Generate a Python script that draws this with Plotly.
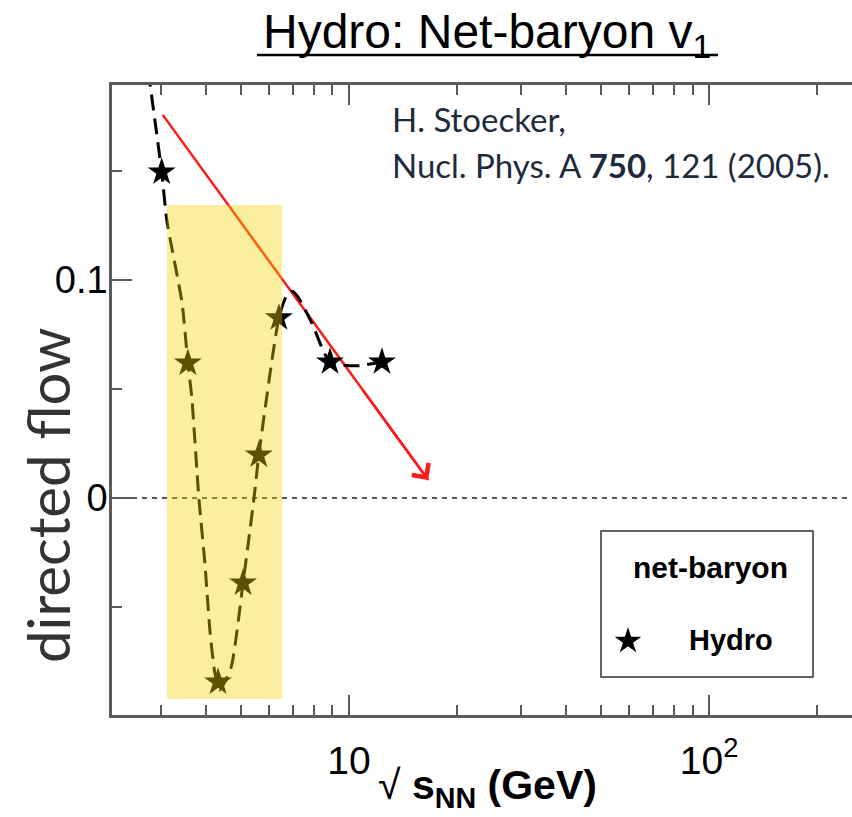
import math
import plotly.graph_objects as go

# Hydro calculation: net-baryon directed flow vs collision energy
energy_hydro = [3.02, 3.57, 4.33, 5.08, 5.62, 6.39, 8.86, 12.35]
v1_hydro = [0.1495, 0.0619, -0.0844, -0.039, 0.0197, 0.0826, 0.0624, 0.0624]

# smooth dashed guide through the hydro points
curve_energy = [2.77, 3.02, 3.12, 3.44, 3.57, 3.66, 3.83, 3.98, 4.11, 4.24, 4.37,
                4.70, 5.08, 5.45, 5.62, 6.39, 6.70, 6.95, 7.20, 7.89, 8.86, 10.46, 12.35]
curve_v1 = [0.196, 0.1495, 0.1275, 0.0894, 0.0619, 0.0463, 0.0, -0.0298, -0.0606,
            -0.0800, -0.0880, -0.0780, -0.039, 0.0, 0.0197, 0.0826, 0.0925, 0.0948,
            0.0925, 0.0802, 0.0624, 0.0606, 0.0624]

# highlighted energy window
window_energy = [3.12, 6.52]
window_v1 = [-0.0922, 0.1344]

# red trend arrow
trend_energy = [3.04, 16.6]
trend_v1 = [0.1757, 0.0083]

x_range = [0.342, 2.397]
y_range = [-0.0995, 0.1894]
x_major = [10, 100]
x_major_text = ["10", "10<sup>2</sup>"]
x_minor = [3, 4, 5, 6, 7, 8, 9, 20, 30, 40, 50, 60, 70, 80, 90, 200]
y_major = [0, 0.1]
y_major_text = ["0", "0.1"]
y_minor = [-0.05, 0.05, 0.15]

W, H = 852, 817
ML, MR, MT, MB = 112, 0, 85, 102
PW, PH = W - ML - MR, H - MT - MB


def px(x):
    return (x - ML) / PW


def py(y):
    return (H - MB - y) / PH


AXIS = "#5a5a5a"
SANS = "Liberation Sans, Arial, Helvetica, sans-serif"
HUMAN = "Lato, Open Sans, sans-serif"

fig = go.Figure()

fig.add_trace(go.Scatter(
    x=trend_energy, y=trend_v1, mode="lines",
    line=dict(color="rgb(255,25,25)", width=2.5),
    showlegend=False, hoverinfo="skip"))

fig.add_trace(go.Scatter(
    x=curve_energy, y=curve_v1, mode="lines",
    line=dict(color="black", width=3, dash="16px,8px", shape="spline", smoothing=0.6),
    showlegend=False, hoverinfo="skip"))

fig.add_trace(go.Scatter(
    x=energy_hydro, y=v1_hydro, mode="markers", name="Hydro",
    marker=dict(symbol="star", size=21, color="black", line=dict(width=0)),
    showlegend=False))

# legend key marker on a unit overlay
fig.add_trace(go.Scatter(
    x=[px(628)], y=[py(641)], mode="markers", xaxis="x2", yaxis="y2",
    marker=dict(symbol="star", size=20, color="black", line=dict(width=0)),
    showlegend=False, hoverinfo="skip"))

# arrow head at the end of the trend line
lx0, lx1 = math.log10(trend_energy[0]), math.log10(trend_energy[1])
f = 0.75
fig.add_annotation(
    x=lx1, y=trend_v1[1], xref="x", yref="y",
    ax=lx0 + f * (lx1 - lx0), ay=trend_v1[0] + f * (trend_v1[1] - trend_v1[0]),
    axref="x", ayref="y", text="", showarrow=True,
    arrowhead=4, arrowsize=1.6, arrowwidth=2.5, arrowcolor="rgb(255,25,25)")


def label(text, x, y, size, family=SANS, color="black", xanchor="center", angle=0):
    fig.add_annotation(text=text, x=px(x), y=py(y), xref="paper", yref="paper",
                       xanchor=xanchor, yanchor="middle", textangle=angle,
                       showarrow=False, font=dict(family=family, size=size, color=color))


label("<b>net-baryon</b>", 710, 567, 30)
label("<b>Hydro</b>", 731, 640, 29)
label("H. Stoecker,", 390, 119, 33, HUMAN, "#1d2b3c", "left")
label("Nucl. Phys. A <b>750</b>, 121 (2005).", 390, 165, 33, HUMAN, "#1d2b3c", "left")
label("directed flow", 47, 496, 58, HUMAN, "#333333", angle=-90)
label("\u221a <b>s<sub>NN</sub> (GeV)</b>", 487, 788, 41)
label("Hydro: Net-baryon v<sub>1</sub>", 487, 35, 48)

shapes = [
    dict(type="line", xref="paper", yref="y", x0=0, x1=1, y0=0, y1=0,
         line=dict(color="#555555", width=2, dash="5px,5px"), layer="below"),
    dict(type="rect", xref="x", yref="y",
         x0=window_energy[0], x1=window_energy[1], y0=window_v1[0], y1=window_v1[1],
         fillcolor="rgba(240,214,0,0.38)", line=dict(width=0), layer="above"),
    dict(type="rect", xref="paper", yref="paper",
         x0=px(601), x1=px(813), y0=py(677), y1=py(531),
         line=dict(color="#333333", width=1.5), fillcolor="rgba(0,0,0,0)"),
    dict(type="line", xref="paper", yref="paper",
         x0=px(257), x1=px(718), y0=py(55), y1=py(55),
         line=dict(color="black", width=2.5)),
]

fig.update_layout(
    width=W, height=H,
    margin=dict(l=ML, r=MR, t=MT, b=MB, pad=0),
    paper_bgcolor="white", plot_bgcolor="white",
    shapes=shapes,
    xaxis=dict(
        type="log", range=x_range, showgrid=False, zeroline=False,
        showline=True, linecolor=AXIS, linewidth=2.5, mirror="ticks",
        ticks="inside", ticklen=20, tickwidth=2, tickcolor=AXIS,
        tickvals=x_major, ticktext=x_major_text, ticklabelstandoff=9,
        tickfont=dict(family=SANS, size=39, color="black"),
        minor=dict(tickvals=x_minor, ticks="inside", ticklen=10, tickwidth=2,
                   tickcolor=AXIS, showgrid=False),
    ),
    yaxis=dict(
        range=y_range, showgrid=False, zeroline=False,
        showline=True, linecolor=AXIS, linewidth=2.5, mirror=False,
        ticks="inside", ticklen=20, tickwidth=2, tickcolor=AXIS,
        tickvals=y_major, ticktext=y_major_text, ticklabelstandoff=-6,
        tickfont=dict(family=SANS, size=38, color="black"),
        minor=dict(tickvals=y_minor, ticks="inside", ticklen=10, tickwidth=2,
                   tickcolor=AXIS, showgrid=False),
    ),
    xaxis2=dict(overlaying="x", anchor="y2", range=[0, 1], visible=False),
    yaxis2=dict(overlaying="y", anchor="x2", range=[0, 1], visible=False),
)

fig.write_html("out.html")
